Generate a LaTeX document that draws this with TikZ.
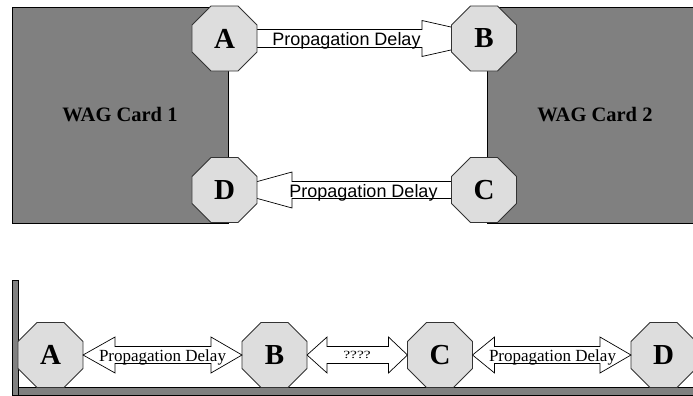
\documentclass[tikz,border=0pt]{standalone}
\usepackage{fontspec}
\newfontfamily\cardserif{Liberation Serif}
\newfontfamily\labelsans{Liberation Sans}
\usetikzlibrary{shapes.geometric,calc}

\definecolor{cardgray}{HTML}{808080}
\definecolor{octofill}{HTML}{DDDDDD}
\definecolor{octoedge}{HTML}{333333}

\tikzset{
  card/.style={rectangle, draw=black, fill=cardgray, line width=0.8pt,
    minimum width=216pt, minimum height=216pt, inner sep=0pt,
    font=\cardserif\bfseries\fontsize{20.5}{22}\selectfont},
  octo/.style={regular polygon, regular polygon sides=8, minimum size=70.4pt,
    inner sep=0pt, outer sep=0pt, draw=octoedge, fill=octofill, line width=0.8pt,
    font=\cardserif\bfseries\fontsize{29}{29}\selectfont},
  blockarrow/.style={draw=black, fill=white, line width=0.7pt, line join=miter},
  sanslbl/.style={font=\labelsans\fontsize{18}{20}\selectfont, anchor=base, inner sep=0pt},
  seriflbl/.style={font=\cardserif\fontsize{17}{19}\selectfont, anchor=base, inner sep=0pt},
  bar/.style={draw=black, fill=cardgray, line width=0.8pt}
}

\begin{document}
\begin{tikzpicture}[x=1pt, y=-1pt]
\useasboundingbox (0,0) rectangle (693,396);
\clip (0,0) rectangle (693,396);

% ---------- upper diagram: two cards ----------
\node[card] (card1) at (120,115) {WAG Card 1};
\node[card] (card2) at (595,115) {WAG Card 2};

% port positions on the card edges
\path (224.5,38.5) coordinate (pA) (484,38.5) coordinate (pB)
      (484,190) coordinate (pC) (224.5,190) coordinate (pD);

% A -> B
\draw[blockarrow] ($(pA)+(20,-9)$) -- ($(pB)+(-62,-9)$) -- ($(pB)+(-62,-18)$)
  -- ($(pB)+(18,0)$) -- ($(pB)+(-62,18)$) -- ($(pB)+(-62,9)$)
  -- ($(pA)+(20,9)$) -- cycle;
% C -> D
\draw[blockarrow] ($(pC)+(-20,-8.5)$) -- ($(pD)+(67.5,-8.5)$) -- ($(pD)+(67.5,-18)$)
  -- ($(pD)+(2,0)$) -- ($(pD)+(67.5,18)$) -- ($(pD)+(67.5,8.5)$)
  -- ($(pC)+(-20,8.5)$) -- cycle;

\node[sanslbl] (lblAB) at (346.5,46) {Propagation Delay};
\node[sanslbl] (lblCD) at (363.5,197) {Propagation Delay};

\node[octo] (A1) at (pA) {A};
\node[octo] (B1) at (pB) {B};
\node[octo] (C1) at (pC) {C};
\node[octo] (D1) at (pD) {D};

% ---------- lower diagram: chain on a rail ----------
\draw[bar] (18,387) rectangle (700,395);
\draw[bar] (12,280) rectangle (18,395.5);

\node[octo] (A2) at (50.5,355) {A};
\node[octo] (B2) at (274.5,355) {B};
\node[octo] (C2) at (440,355) {C};
\node[octo] (D2) at (663.5,355) {D};

% A <-> B
\draw[blockarrow] (A2.east) -- ($(A2.east)+(32,-18)$) -- ($(A2.east)+(32,-8.5)$)
  -- ($(B2.west)+(-31,-8.5)$) -- ($(B2.west)+(-31,-18)$) -- (B2.west)
  -- ($(B2.west)+(-31,18)$) -- ($(B2.west)+(-31,8.5)$)
  -- ($(A2.east)+(32,8.5)$) -- ($(A2.east)+(32,18)$) -- cycle;
% B <-> C
\draw[blockarrow] (B2.east) -- ($(B2.east)+(20,-18)$) -- ($(B2.east)+(20,-8.5)$)
  -- ($(C2.west)+(-19,-8.5)$) -- ($(C2.west)+(-19,-18)$) -- (C2.west)
  -- ($(C2.west)+(-19,18)$) -- ($(C2.west)+(-19,8.5)$)
  -- ($(B2.east)+(20,8.5)$) -- ($(B2.east)+(20,18)$) -- cycle;
% C <-> D
\draw[blockarrow] (C2.east) -- ($(C2.east)+(22,-18)$) -- ($(C2.east)+(22,-8.5)$)
  -- ($(D2.west)+(-31,-8.5)$) -- ($(D2.west)+(-31,-18)$) -- (D2.west)
  -- ($(D2.west)+(-31,18)$) -- ($(D2.west)+(-31,8.5)$)
  -- ($(C2.east)+(22,8.5)$) -- ($(C2.east)+(22,18)$) -- cycle;

\node[seriflbl] (lblAB2) at (162.5,361) {Propagation Delay};
\node[seriflbl, font=\cardserif\fontsize{11}{12}\selectfont] (lblBC2) at (357,358) {\scalebox{1.4}[1]{????}};
\node[seriflbl] (lblCD2) at (552.5,361) {Propagation Delay};
\end{tikzpicture}
\end{document}
